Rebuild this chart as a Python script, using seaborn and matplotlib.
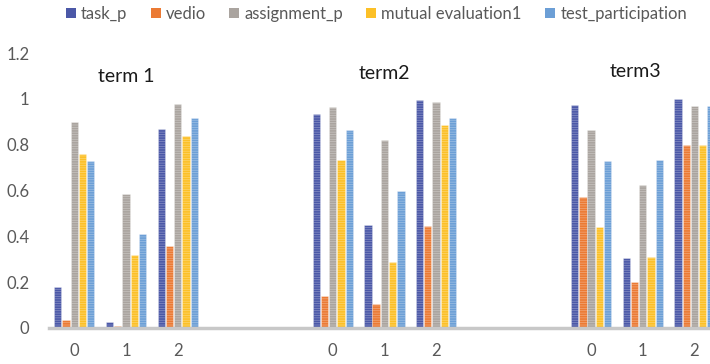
import numpy as np
import pandas as pd
import matplotlib
matplotlib.use("Agg")
import matplotlib.pyplot as plt
import seaborn as sns

# ---- data ----
terms = ["term 1", "term2", "term3"]
groups = ["0", "1", "2"]
series = ["task_p", "vedio", "assignment_p", "mutual evaluation1", "test_participation"]
# values per (term, group): order t1g0,t1g1,t1g2,t2g0,...,t3g2
task_p = [0.18, 0.025, 0.87, 0.935, 0.45, 0.995, 0.975, 0.305, 1.0]
vedio = [0.035, 0.01, 0.36, 0.14, 0.105, 0.445, 0.57, 0.20, 0.80]
assignment_p = [0.90, 0.585, 0.98, 0.965, 0.82, 0.985, 0.865, 0.625, 0.97]
mutual_evaluation1 = [0.76, 0.32, 0.84, 0.735, 0.29, 0.885, 0.44, 0.31, 0.80]
test_participation = [0.73, 0.41, 0.915, 0.865, 0.60, 0.915, 0.73, 0.735, 0.97]
positions = [0, 1, 2, 5, 6, 7, 10, 11, 12]
title_pos = [(1.0, 1.096), (6.0, 1.113), (10.86, 1.122)]

colors = ["#4b58a7", "#eb7a34", "#aaa49f", "#fcc027", "#6c9fd6"]

vals = [task_p, vedio, assignment_p, mutual_evaluation1, test_participation]
rows = []
for s, v in zip(series, vals):
    for p, val in zip(positions, v):
        rows.append({"pos": p, "series": s, "value": val})
df = pd.DataFrame(rows)

sns.set_style("white")
plt.rcParams["font.family"] = ["Lato", "DejaVu Sans"]
plt.rcParams["hatch.linewidth"] = 0.5

fig = plt.figure(figsize=(7.10, 3.64), dpi=100)
ax = fig.add_axes([0.069, 0.099, 0.931, 0.755])

sns.barplot(data=df, x="pos", y="value", hue="series", hue_order=series,
            palette=colors, native_scale=True, width=0.8, gap=0.12,
            ax=ax, legend=False, saturation=1, errorbar=None,
            edgecolor=(1, 1, 1, 0.35), linewidth=0.5)
for p in ax.patches:
    p.set_hatch("-------")

ax.set_xlim(-0.49, 12.3)
ax.set_ylim(0, 1.2)
ax.set_yticks(np.arange(0, 1.21, 0.2))
ax.set_yticklabels(["0", "0.2", "0.4", "0.6", "0.8", "1", "1.2"])
ax.set_xticks(positions)
ax.set_xticklabels(groups * 3)
ax.tick_params(axis="both", length=0, labelsize=12, colors="#595959")
ax.tick_params(axis="y", pad=14)
ax.tick_params(axis="x", pad=11)
ax.set_xlabel("")
ax.set_ylabel("")
for sp in ["left", "right", "top"]:
    ax.spines[sp].set_visible(False)
ax.spines["bottom"].set_color("#c8c8c8")
ax.spines["bottom"].set_linewidth(2.5)

for t, (x, y) in zip(terms, title_pos):
    ax.text(x, y, t, ha="center", va="center", fontsize=14, color="#1a1a1a")

handles = [plt.Rectangle((0, 0), 1, 1, facecolor=c, edgecolor="none") for c in colors]
leg = fig.legend(handles, series, loc="center left", bbox_to_anchor=(0.072, 0.962),
                 ncol=5, frameon=False, fontsize=12, handlelength=0.6,
                 handleheight=0.6, handletextpad=0.3, columnspacing=1.4,
                 labelcolor="#595959")

fig.savefig("out.png", dpi=100)
